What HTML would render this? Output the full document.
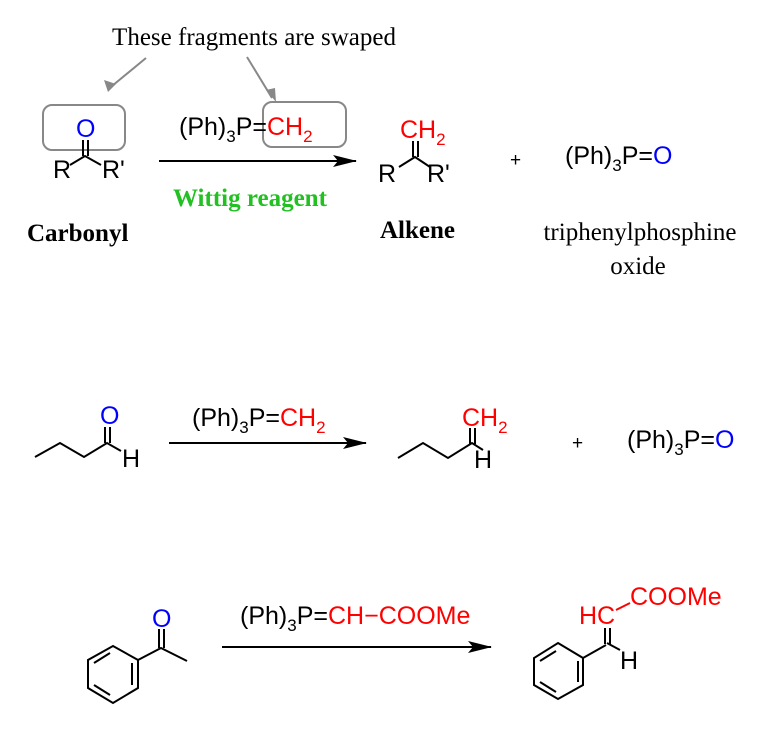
<!DOCTYPE html>
<html><head><meta charset="utf-8"><style>
html,body{margin:0;padding:0;background:#fff;}
svg{display:block;}
.a{font-family:"Liberation Sans",Arial,sans-serif;font-size:25px;}
.s{font-family:"Liberation Serif",serif;}
.r{fill:#f00}.b{fill:#00f}
</style></head><body>
<svg width="770" height="733" viewBox="0 0 770 733" xmlns="http://www.w3.org/2000/svg">
<defs>
<marker id="ah" markerWidth="24" markerHeight="12" refX="23" refY="6" orient="auto" markerUnits="userSpaceOnUse"><path d="M0,0 L24,6 L0,12 L5,6z" fill="#000"/></marker>
</defs>
<g stroke="#000" stroke-width="2" fill="none">
<text x="254" y="45" class="s" font-size="25" text-anchor="middle" fill="#000" stroke="none">These fragments are swaped</text>
<g stroke="#888" stroke-width="2">
<line x1="146" y1="58" x2="112" y2="86"/>
<line x1="247" y1="57" x2="272" y2="98"/>
</g>
<path d="M104,80 L116,84 L108,92z" fill="#888" stroke="none"/>
<path d="M266,90 L276,102 L275,88z" fill="#888" stroke="none"/>
<rect x="43" y="105" width="82" height="45" rx="9" stroke="#888"/>
<rect x="263" y="102" width="83" height="45" rx="9" stroke="#888"/>
<line x1="83" y1="140" x2="83" y2="156"/><line x1="88" y1="140" x2="88" y2="156"/>
<polyline points="70,165 85,156 101,165"/>
<line x1="159" y1="161" x2="356" y2="161" marker-end="url(#ah)"/>
<line x1="413" y1="141" x2="413" y2="157"/><line x1="418" y1="141" x2="418" y2="157"/>
<polyline points="399,167 415,157 430,167"/>
<polyline points="35,457 60,443 84,457 107,443 121,451"/>
<line x1="105" y1="427" x2="105" y2="443"/><line x1="110" y1="427" x2="110" y2="443"/>
<line x1="169" y1="443" x2="366" y2="443" marker-end="url(#ah)"/>
<polyline points="398,458 423,443 448,458 472,443 483,450"/>
<line x1="470" y1="428" x2="470" y2="444"/><line x1="475" y1="428" x2="475" y2="444"/>
<polygon points="113,646 138,660 138,688 113,703 88,688 88,660"/>
<line x1="94" y1="663" x2="110" y2="653"/><line x1="132" y1="663" x2="132" y2="685"/><line x1="94" y1="685" x2="110" y2="695"/>
<polyline points="138,660 161,648 187,661"/>
<line x1="159" y1="629" x2="159" y2="648"/><line x1="164" y1="629" x2="164" y2="648"/>
<line x1="222" y1="647" x2="491" y2="647" marker-end="url(#ah)"/>
<polygon points="558,643 583,658 583,685 558,699 534,685 534,658"/>
<line x1="540" y1="661" x2="556" y2="651"/><line x1="578" y1="661" x2="578" y2="682"/><line x1="540" y1="682" x2="556" y2="692"/>
<line x1="583" y1="658" x2="606" y2="645"/>
<line x1="605" y1="628" x2="605" y2="644"/><line x1="610" y1="628" x2="610" y2="644"/>
<line x1="607" y1="643" x2="620" y2="650"/>
<line x1="616" y1="610" x2="630" y2="603" stroke="#f00"/>
</g>
<g class="a" fill="#000">
<text x="76" y="137" class="b">O</text>
<text x="53" y="178">R</text><text x="102" y="178">R'</text>
<text x="179" y="135">(Ph)<tspan font-size="17" dy="7">3</tspan><tspan dy="-7">P=</tspan><tspan class="r">CH<tspan font-size="17" dy="7">2</tspan></tspan></text>
<text x="400" y="138" class="r">CH<tspan font-size="17" dy="7">2</tspan></text>
<text x="378" y="182">R</text><text x="427" y="182">R'</text>
<text x="510" y="166" font-size="19">+</text>
<text x="565" y="164">(Ph)<tspan font-size="17" dy="7">3</tspan><tspan dy="-7">P=</tspan><tspan class="b">O</tspan></text>
<text x="100" y="424" class="b">O</text>
<text x="122" y="467">H</text>
<text x="192" y="426">(Ph)<tspan font-size="17" dy="7">3</tspan><tspan dy="-7">P=</tspan><tspan class="r">CH<tspan font-size="17" dy="7">2</tspan></tspan></text>
<text x="462" y="426" class="r">CH<tspan font-size="17" dy="7">2</tspan></text>
<text x="474" y="468">H</text>
<text x="572" y="449" font-size="19">+</text>
<text x="627" y="448">(Ph)<tspan font-size="17" dy="7">3</tspan><tspan dy="-7">P=</tspan><tspan class="b">O</tspan></text>
<text x="152" y="627" class="b">O</text>
<text x="240" y="624">(Ph)<tspan font-size="17" dy="7">3</tspan><tspan dy="-7">P=</tspan><tspan class="r">CH−COOMe</tspan></text>
<text x="579" y="624" class="r">HC</text>
<text x="630" y="605" class="r">COOMe</text>
<text x="620" y="669">H</text>
</g>
<g class="s" font-size="25">
<text x="173" y="206" font-weight="bold" fill="#22c022">Wittig reagent</text>
<text x="27" y="241" font-weight="bold">Carbonyl</text>
<text x="380" y="238" font-weight="bold">Alkene</text>
<text x="640" y="240" text-anchor="middle">triphenylphosphine</text>
<text x="638" y="274" text-anchor="middle">oxide</text>
</g>
</svg>
</body></html>
